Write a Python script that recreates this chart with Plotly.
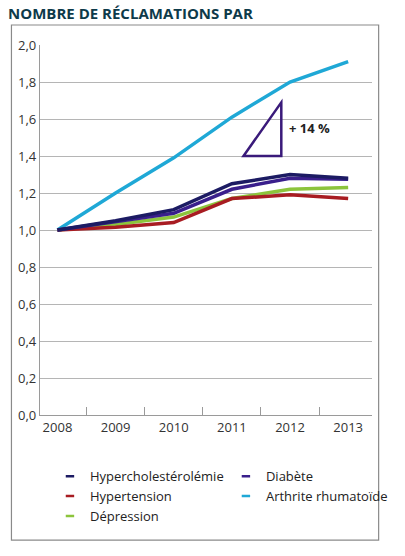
import plotly.graph_objects as go

years = [2008, 2009, 2010, 2011, 2012, 2013]
year_labels = ["2008", "2009", "2010", "2011", "2012", "2013"]

hypercholesterolemie = [1.00, 1.05, 1.11, 1.25, 1.30, 1.28]
diabete = [1.00, 1.045, 1.09, 1.22, 1.28, 1.275]
hypertension = [1.00, 1.015, 1.04, 1.17, 1.19, 1.17]
depression = [1.00, 1.03, 1.07, 1.17, 1.22, 1.23]
arthrite = [1.00, 1.20, 1.39, 1.61, 1.80, 1.91]

y_ticks = [0.0, 0.2, 0.4, 0.6, 0.8, 1.0, 1.2, 1.4, 1.6, 1.8, 2.0]

series = [
    ("Hypercholestérolémie", hypercholesterolemie, "#1c1b63", "legend"),
    ("Hypertension", hypertension, "#a81c22", "legend"),
    ("Dépression", depression, "#8cc43c", "legend"),
    ("Diabète", diabete, "#3a1f8c", "legend2"),
    ("Arthrite rhumatoïde", arthrite, "#1fa8d6", "legend2"),
]
draw_order = [4, 2, 1, 3, 0]

fig = go.Figure()
for i in draw_order:
    name, vals, col, lg = series[i]
    fig.add_trace(go.Scatter(x=years, y=vals, mode="lines", name=name,
                             line=dict(color=col, width=3.5), showlegend=False))
for name, vals, col, lg in series:
    fig.add_trace(go.Scatter(x=[None], y=[None], mode="markers", name=name,
                             marker=dict(symbol="line-ew-open", size=6, color=col,
                                         line=dict(color=col, width=2.5)),
                             legend=lg, showlegend=True))

# +14 % triangle annotation
fig.add_shape(type="path",
              path="M 2011.2 1.40 L 2011.85 1.40 L 2011.85 1.69 Z",
              xref="x", yref="y", line=dict(color="#3a1a7a", width=2.5))
fig.add_annotation(x=2011.95, y=1.55, xref="x", yref="y", text="<b>+ 14 %</b>",
                   showarrow=False, xanchor="left",
                   font=dict(family="Open Sans", size=13, color="#222"))

# outer frame
fig.add_shape(type="rect", xref="paper", yref="paper",
              x0=-0.086, x1=1.02, y0=-0.338, y1=1.054,
              line=dict(color="#8a8a8a", width=1.2), layer="below")

fig.update_layout(
    width=405, height=556,
    margin=dict(l=40, r=17, t=45, b=141),
    paper_bgcolor="white", plot_bgcolor="white",
    separators=", ",
    font=dict(family="Open Sans", color="#333"),
    title=dict(text="<b>NOMBRE DE RÉCLAMATIONS PAR</b>", x=0.02, xanchor="left",
               y=0.985, yanchor="top",
               font=dict(family="Open Sans", size=15, color="#0d3a4a")),
    xaxis=dict(range=[2007.7, 2013.41], tickvals=years, ticktext=year_labels,
               showgrid=False, zeroline=False, showline=True,
               linecolor="#9a9a9a", linewidth=1.2, ticks="",
               tickfont=dict(size=13, color="#333"),
               minor=dict(tickvals=[2008.5, 2009.5, 2010.5, 2011.5, 2012.5],
                          ticks="inside", ticklen=8, tickcolor="#9a9a9a",
                          showgrid=False)),
    yaxis=dict(range=[0, 2.0], tickvals=y_ticks, tickformat=".1f",
               showgrid=True, gridcolor="#b5b5b5", gridwidth=1,
               zeroline=False, showline=True, linecolor="#9a9a9a", linewidth=1.2,
               ticks="", tickfont=dict(size=13, color="#333")),
    legend=dict(x=0.03, y=-0.125, xanchor="left", yanchor="top",
                orientation="v", font=dict(size=13, color="#222"),
                tracegroupgap=2, itemwidth=30, bgcolor="rgba(0,0,0,0)"),
    legend2=dict(x=0.56, y=-0.125, xanchor="left", yanchor="top",
                 orientation="v", font=dict(size=13, color="#222"),
                 tracegroupgap=2, itemwidth=30, bgcolor="rgba(0,0,0,0)"),
)

fig.write_html("out.html")
